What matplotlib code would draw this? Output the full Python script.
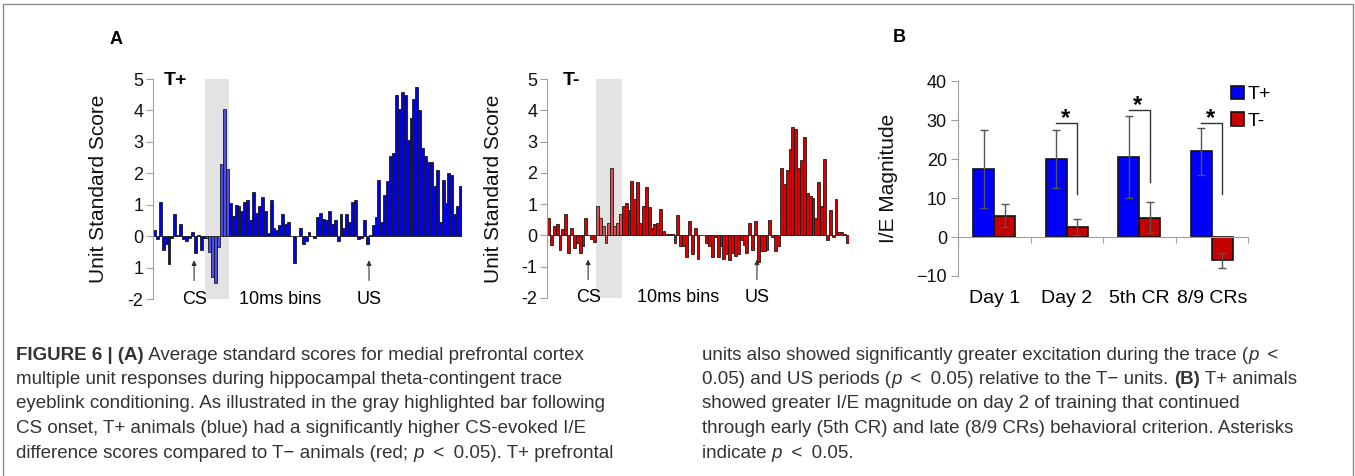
import matplotlib
matplotlib.use("Agg")
import matplotlib.pyplot as plt
import numpy as np
from matplotlib.patches import Rectangle

plt.rcParams['font.family'] = ['Liberation Sans', 'DejaVu Sans']

W, H = 1355, 476

# ---- panel A data (unit standard scores, 10 ms bins) ----
tplus_scores = [0.2, -0.1, 1.1, -0.45, -0.25, -0.9, -0.05, 0.7, 0.05, 0.4, -0.1, -0.15,
                -0.05, 0.12, -0.55, 0.03, -0.45, -0.05,
                -0.05, -0.5, -1.3, -1.5, -0.35, 2.3, 4.05, 2.15,
                1.05, 0.65, 1.0, 0.95, 0.8, 1.1, 1.15, 0.5, 1.4, 0.75,
                0.95, 1.25, 0.8, 0.1, 1.15, 0.25, 0.2, 0.35, 0.7, 0.4,
                0.45, 0.0, -0.85, 0.0, 0.25, -0.25, -0.15, 0.12, 0.0, -0.05,
                0.6, 0.75, 0.55, 0.5, 0.8, 0.4, 0.5, -0.15, 0.7, 0.25,
                0.7, 0.45, 1.1, 1.15, -0.1, -0.05, 0.5, -0.25, 0.05, 0.35,
                0.6, 1.8, 0.45, 1.3, 1.75, 2.55, 2.65, 4.5, 4.05, 4.6,
                4.5, 3.05, 3.75, 4.35, 4.75, 4.0, 2.8, 2.55, 2.35, 2.35,
                1.6, 2.1, 0.45, 1.8, 1.05, 2.0, 1.95, 0.7, 0.95, 1.6]
tminus_scores = [0.55, -0.3, 0.3, 0.35, -0.45, 0.2, 0.7, -0.55, 0.25, -0.4, -0.25, -0.55,
                 -0.35, 0.55, 0.0, -0.1, -0.2,
                 0.95, 0.55, 0.3, -0.25, 0.4, 2.15, 0.3, 0.4, 0.7,
                 0.95, 1.05, 0.8, 1.75, 1.15, 1.7, 0.4, 0.95, 1.55, 0.9,
                 0.25, 0.35, 0.4, 0.85, 0.15, 0.05, 0.05, 0.05, -0.25, 0.65,
                 -0.35, -0.35, -0.7, 0.45, -0.6, 0.25, -0.75, 0.0, 0.0, -0.25,
                 -0.35, -0.7, -0.05, -0.7, -0.35, -0.75, -0.6, -0.8, -0.55, -0.65,
                 -0.6, -0.15, -0.3, -0.55, 0.4, -0.45, 0.45, -0.85, -0.5, -0.5,
                 -0.45, 0.5, -0.05, -0.5, -0.35, 2.15, 1.65, 2.1, 2.75, 3.45,
                 3.4, 2.15, 2.4, 3.15, 1.35, 1.25, 1.2, 0.55, 1.7, 0.95,
                 2.45, -0.15, 0.8, -0.05, 1.15, 0.1, 0.1, 0.05, -0.25]
tplus_gray = (17.5, 25.5)     # bins under the gray CS highlight
tminus_gray = (16.5, 25.5)
tplus_marks = {'CS': 13.6, 'US': 73.6, 'bins': 43.1}
tminus_marks = {'CS': 13.8, 'US': 72.5, 'bins': 45.0}
a_yticks = [-2, -1, 0, 1, 2, 3, 4, 5]
tplus_yticklabels = ['-2', '1', '0', '1', '2', '3', '4', '5']
tminus_yticklabels = ['-2', '-1', '0', '1', '2', '3', '4', '5']

# ---- panel B data (I/E magnitude) ----
stages = ['Day 1', 'Day 2', '5th CR', '8/9 CRs']
ie_tplus = [17.5, 20.0, 20.5, 22.0]
ie_tplus_err = [10.0, 7.5, 10.5, 6.0]
ie_tminus = [5.5, 2.5, 5.0, -6.0]
ie_tminus_err = [3.0, 2.0, 4.0, 2.0]
sig_stage = [1, 2, 3]
sig_top = [29.2, 32.5, 29.2]
sig_bottom = [11.0, 14.0, 11.0]

fig = plt.figure(figsize=(W / 100, H / 100), dpi=100)


def px_axes(x0, y0, x1, y1):
    return fig.add_axes([x0 / W, 1 - y1 / H, (x1 - x0) / W, (y1 - y0) / H])


def score_panel(ax, scores, color, light, gray, marks, label, yticklabels):
    n = len(scores)
    x = np.arange(n)
    cols = [light if gray[0] < i < gray[1] else color for i in x]
    ax.axvspan(gray[0], gray[1], color='#e3e3e3', lw=0, zorder=0)
    ax.bar(x, scores, width=1.0, color=cols, edgecolor='#1a1a1a', lw=0.6, zorder=2)
    ax.set_xlim(-0.5, n - 0.5)
    ax.set_ylim(-2, 5)
    for s in ['top', 'right', 'bottom']:
        ax.spines[s].set_visible(False)
    ax.spines['left'].set_color('#a0a0a0')
    ax.set_xticks([])
    ax.set_yticks(a_yticks)
    ax.set_yticklabels(yticklabels)
    ax.tick_params(axis='y', colors='#a0a0a0', labelcolor='#111111', labelsize=13,
                   length=5, pad=2)
    ax.set_ylabel('Unit Standard Score', fontsize=15, color='#111111')
    ax.yaxis.set_label_coords(-0.146, 0.5)
    ax.text(0.035 if label == 'T+' else 0.053, 0.995, label, transform=ax.transAxes,
            fontsize=14, fontweight='bold', va='center', ha='left')
    for key in ['CS', 'US']:
        ax.annotate('', xy=(marks[key], -0.68), xytext=(marks[key], -1.5),
                    arrowprops=dict(arrowstyle='-|>', lw=0.8, color='#333333',
                                    mutation_scale=7), zorder=3)
        ax.text(marks[key], -2, key, ha='center', va='center', fontsize=13)
    ax.text(marks['bins'], -2, '10ms bins', ha='center', va='center', fontsize=13)


ax1 = px_axes(153, 79, 462, 299)
score_panel(ax1, tplus_scores, '#0000ee', '#4c4cf0', tplus_gray, tplus_marks, 'T+',
            tplus_yticklabels)
ax2 = px_axes(547, 79, 849, 298)
score_panel(ax2, tminus_scores, '#dd0000', '#dc5050', tminus_gray, tminus_marks, 'T-',
            tminus_yticklabels)

# ---- panel B ----
ax3 = px_axes(958, 81, 1248, 276)
pos = np.arange(len(stages)) + 0.5
bw = 0.29
err_kw = dict(ecolor='#555555', elinewidth=1.0, capsize=3, capthick=1.0)
ax3.bar(pos - bw / 2, ie_tplus, bw, yerr=ie_tplus_err, color='#0000ff',
        edgecolor='#111111', lw=1.2, error_kw=err_kw, label='T+', zorder=2)
ax3.bar(pos + bw / 2, ie_tminus, bw, yerr=ie_tminus_err, color='#c40000',
        edgecolor='#111111', lw=1.2, error_kw=err_kw, label='T-', zorder=2)
for i, top, bot in zip(sig_stage, sig_top, sig_bottom):
    x0, x1 = pos[i] - bw / 2, pos[i] + bw / 2
    ax3.plot([x0, x1, x1], [top, top, bot], color='#333333', lw=1.0, zorder=3)
    ax3.text((x0 + x1) / 2 - 0.02, top + 1.2, '*', ha='center', va='center',
             fontsize=17, fontweight='bold')
ax3.set_xlim(0, 4)
ax3.set_ylim(-10, 40)
ax3.set_yticks([-10, 0, 10, 20, 30, 40])
ax3.spines['top'].set_visible(False)
ax3.spines['right'].set_visible(False)
ax3.spines['left'].set_color('#a0a0a0')
ax3.spines['bottom'].set_color('#a0a0a0')
ax3.spines['bottom'].set_position(('data', 0))
ax3.set_xticks([0, 1, 2, 3, 4])
ax3.set_xticklabels([])
ax3.tick_params(axis='y', colors='#a0a0a0', labelcolor='#111111', labelsize=13,
                length=5, pad=3)
ax3.tick_params(axis='x', colors='#a0a0a0', length=4)
for p, s in zip(pos, stages):
    ax3.annotate(s, xy=(p, -10), xytext=(0, -16), textcoords='offset points',
                 ha='center', va='center', fontsize=14)
ax3.set_ylabel('I/E Magnitude', fontsize=15, color='#111111')
ax3.yaxis.set_label_coords((898 - 958) / 290, 0.5)
ax3.legend(loc='upper left', bbox_to_anchor=(0.94, 0.975), frameon=False, fontsize=14,
           handlelength=0.7, handleheight=0.7, handletextpad=0.15, labelspacing=0.45,
           borderpad=0, borderaxespad=0)

fig.text(110 / W, 1 - 39 / H, 'A', fontsize=13, fontweight='bold', ha='left', va='center')
fig.text(893 / W, 1 - 38 / H, 'B', fontsize=13, fontweight='bold', ha='left', va='center')

# frame around the figure
fig.add_artist(Rectangle((2.5 / W, -0.05), (W - 5) / W, 1.05 - 3.5 / H,
                         transform=fig.transFigure, fill=False, ec='#8a8a8a', lw=1.0))

# ---- caption ----
LT = '\u2002<\u2002'
left_lines = [
    [('FIGURE 6 | (A)', 'b'), (' Average standard scores for medial prefrontal cortex', '')],
    [('multiple unit responses during hippocampal theta-contingent trace', '')],
    [('eyeblink conditioning. As illustrated in the gray highlighted bar following', '')],
    [('CS onset, T+ animals (blue) had a significantly higher CS-evoked I/E', '')],
    [('difference scores compared to T\u2212 animals (red; ', ''), ('p', 'i'),
     (LT + '0.05). T+ prefrontal', '')],
]
right_lines = [
    [('units also showed significantly greater excitation during the trace (', ''),
     ('p', 'i'), ('\u2002<', '')],
    [('0.05) and US periods (', ''), ('p', 'i'), (LT + '0.05) relative to the T\u2212 units. ', ''),
     ('(B)', 'b'), (' T+ animals', '')],
    [('showed greater I/E magnitude on day 2 of training that continued', '')],
    [('through early (5th CR) and late (8/9 CRs) behavioral criterion. Asterisks', '')],
    [('indicate ', ''), ('p', 'i'), (LT + '0.05.', '')],
]

renderer = fig.canvas.get_renderer()


def rich_line(x_px, y_px, pieces, size=13.5):
    x = x_px
    for txt, style in pieces:
        t = fig.text(x / W, 1 - y_px / H, txt, fontsize=size, color='#333333',
                     ha='left', va='center',
                     fontweight='bold' if style == 'b' else 'normal',
                     fontstyle='italic' if style == 'i' else 'normal')
        x += t.get_window_extent(renderer).width


for k, pieces in enumerate(left_lines):
    rich_line(16, 355 + k * 24.5, pieces)
for k, pieces in enumerate(right_lines):
    rich_line(702, 355 + k * 24.5, pieces)

fig.savefig('out.png', dpi=100)
